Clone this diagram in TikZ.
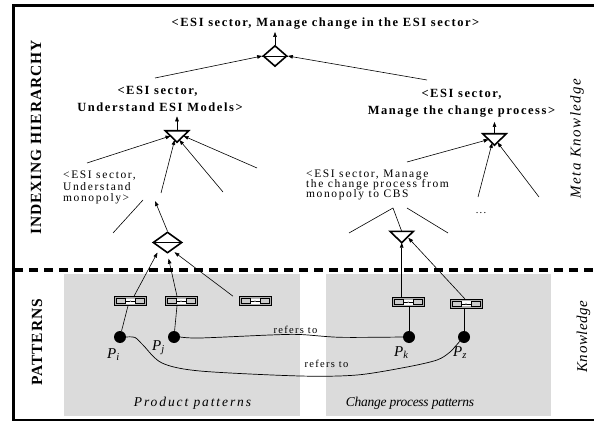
\documentclass[tikz,border=0pt]{standalone}
\usepackage{fontspec}
\setmainfont{Liberation Serif}
\newfontfamily\fhd[LetterSpace=12.5]{Liberation Serif}
\newfontfamily\ftx[LetterSpace=14]{Liberation Serif}
\newfontfamily\fref[LetterSpace=12]{Liberation Serif}
\newfontfamily\fprod[LetterSpace=14]{Liberation Serif}
\newfontfamily\fchg[LetterSpace=-2]{Liberation Serif}
\newfontfamily\fbig[LetterSpace=6]{Liberation Serif}
\newfontfamily\fmeta[LetterSpace=10]{Liberation Serif}
\newfontfamily\fkn[LetterSpace=4]{Liberation Serif}
\usetikzlibrary{arrows.meta,shapes.geometric,calc}
\begin{document}
\begin{tikzpicture}[x=1pt,y=-1pt,
  arr/.style={-{Triangle[length=5pt,width=3.6pt]}, line width=0.6pt},
  ln/.style={line width=0.6pt},
  hd/.style={font={\fhd\bfseries\fontsize{12.5}{14}\selectfont}, inner sep=0pt, anchor=base},
  tx/.style={font={\ftx\fontsize{11.5}{13}\selectfont}, inner sep=0pt, anchor=base west},
  ref/.style={font={\fref\fontsize{10.5}{12}\selectfont}, inner sep=0pt, anchor=base},
  plab/.style={font={\itshape\fontsize{15}{17}\selectfont}, inner sep=0pt, anchor=base west},
  grpp/.style={font={\fprod\itshape\fontsize{13.5}{15}\selectfont}, inner sep=0pt, anchor=base},
  grpc/.style={font={\fchg\itshape\fontsize{13.5}{15}\selectfont}, inner sep=0pt, anchor=base},
  side/.style={font={\fbig\bfseries\fontsize{15.5}{18}\selectfont}, inner sep=0pt, anchor=base, rotate=90},
  sidem/.style={font={\fmeta\itshape\fontsize{15}{17}\selectfont}, inner sep=0pt, anchor=base, rotate=90},
  sidek/.style={font={\fkn\itshape\fontsize{15}{17}\selectfont}, inner sep=0pt, anchor=base, rotate=90},
  dia/.style={diamond, draw, line width=1.6pt, inner sep=0pt},
  trib/.style={inner sep=0pt, minimum width=23pt, minimum height=11pt},
  tridraw/.style={line width=1.6pt, line join=miter},
  icon/.style={draw, line width=0.6pt, fill=gray!60, inner sep=0pt, minimum width=32pt, minimum height=9pt,
    path picture={
      \fill[white] ($(path picture bounding box.center)+(-5,-2.5)$) rectangle ($(path picture bounding box.center)+(5,2.5)$);
      \draw[line width=0.5pt, fill=gray!40] ($(path picture bounding box.center)+(-14,-2.3)$) rectangle ($(path picture bounding box.center)+(-5,2.3)$);
      \draw[line width=0.5pt, fill=gray!40] ($(path picture bounding box.center)+(5,-2.3)$) rectangle ($(path picture bounding box.center)+(14,2.3)$);
      \draw[line width=0.5pt] ($(path picture bounding box.center)+(-5,0)$) -- ($(path picture bounding box.center)+(5,0)$);
      \fill ($(path picture bounding box.center)$) circle (0.9pt);
    }},
  pdot/.style={circle, fill=black, inner sep=0pt, minimum size=12pt}
]
\useasboundingbox (0,0) rectangle (594,422);
% grey areas
\fill[gray!28] (64,274) rectangle (300,416);
\fill[gray!28] (326,274) rectangle (551,416);
% frame
\draw[line width=2.4pt] (594,5.5) -- (13.5,5.5) -- (13.5,419.8) -- (594,419.8);
\draw[line width=3.2pt, dash pattern=on 9pt off 6pt] (14,270) -- (594,270);

% side labels
\node[side] (ih) at (41,137.5) {INDEXING HIERARCHY};
\node[side] (pt) at (42,342.5) {PATTERNS};
\node[sidem] (mk) at (580.5,138.5) {Meta Knowledge};
\node[sidek] (kn) at (587,336.5) {Knowledge};

% texts
\node[hd] (top) at (325.5,27) {<ESI sector, Manage change in the ESI sector>};
\node[hd] (l2a) at (157.5,95) {<ESI sector,};
\node[hd] (l2b) at (160,112) {Understand ESI Models>};
\node[hd] (r2a) at (461.5,98) {<ESI sector,};
\node[hd] (r2b) at (461.5,115) {Manage the change process>};

\node[tx] (m1) at (63,179) {<ESI sector,};
\node[tx] (m2) at (63,191) {Understand};
\node[tx] (m3) at (63,202) {monopoly>};
\node[tx] (c1) at (306,178) {<ESI sector, Manage};
\node[tx] (c2) at (306,188) {the change process from};
\node[tx] (c3) at (306,198) {monopoly to CBS};
\node[ref] (dd) at (481,213) {...};

% top diamond
\node[dia, minimum width=24pt, minimum height=21pt] (D) at (275,56) {};
\draw[line width=0.8pt] (D.west) -- (D.east);
\draw[arr, shorten >=2pt] (D.north) -- (D.north |- top.south);
\coordinate (aL) at (155,78);
\coordinate (aR) at (427,80);
\draw[arr] (aL) -- (D.west);
\draw[arr] (aR) -- (D.east);

% left triangle
\node[trib] (t1) at (177,136.5) {};
\draw[tridraw] (t1.north west) -- (t1.north east) -- (t1.south) -- cycle;
\draw[arr, shorten >=4pt] (t1.north) -- (t1.north |- l2b.south);
\coordinate (b1) at (87,163);
\coordinate (b2) at (161,193);
\coordinate (b3) at (223,192);
\coordinate (b4) at (257,168);
\draw[arr] (b1) -- ($(t1.north west)!0.45!(t1.south)$);
\draw[arr] (b2) -- ($(t1.north west)!0.8!(t1.south)$);
\draw[arr] (b3) -- ($(t1.north east)!0.8!(t1.south)$);
\draw[arr] (b4) -- ($(t1.north east)!0.45!(t1.south)$);

% right triangle
\node[trib] (t2) at (494.5,139.5) {};
\draw[tridraw] (t2.north west) -- (t2.north east) -- (t2.south) -- cycle;
\draw[arr, shorten >=4pt] (t2.north) -- (t2.north |- r2b.south);
\coordinate (e1) at (407,162);
\coordinate (e2) at (478,197);
\coordinate (e3) at (539,197);
\draw[arr] (e1) -- ($(t2.north west)!0.5!(t2.south)$);
\draw[arr] (e2) -- ($(t2.north west)!0.8!(t2.south)$);
\draw[arr] (e3) -- ($(t2.north east)!0.75!(t2.south)$);

% lower diamond
\node[dia, minimum width=29pt, minimum height=21pt] (d2) at (167.5,242.5) {};
\draw[line width=0.8pt] (d2.west) -- (d2.east);
\coordinate (g1) at (155,201);
\draw[arr] (d2.north) -- (g1);
\coordinate (s1a) at (113,233);
\coordinate (s1b) at (143,200);
\draw[ln] (s1a) -- (s1b);

% lower triangle
\node[trib] (t3) at (401.7,237) {};
\draw[tridraw] (t3.north west) -- (t3.north east) -- (t3.south) -- cycle;
\coordinate (h0) at (393,208);
\coordinate (h1) at (349,233);
\coordinate (h2) at (407,208);
\coordinate (h3) at (448,233);
\draw[ln] (h1) -- (h0);
\draw[ln] (t3.north) -- (h0);
\draw[ln] (h2) -- (h3);

% icons
\node[icon] (i1) at (130.5,301) {};
\node[icon] (i2) at (181,301) {};
\node[icon] (i3) at (255,301) {};
\node[icon] (i4) at (408.3,302) {};
\node[icon] (i5) at (466,303.8) {};

\draw[arr, shorten >=5pt] ($(i1.north)+(3.5,0)$) -- (d2.south west);
\draw[arr, shorten >=5pt] ($(i2.north)+(-4,0)$) -- (d2.south);
\draw[arr, shorten >=3pt] ($(i3.north)+(-22,0)$) -- ($(d2.south)!0.3!(d2.east)$);
\draw[arr] (t3.south |- i4.north) -- (t3.south);
\draw[arr, shorten >=1pt] ($(i5.north)+(-1,0)$) -- ($(t3.north east)!0.5!(t3.south)$);

% pattern dots
\node[pdot] (pi) at (120,337) {};
\node[pdot] (pj) at (174,337) {};
\node[pdot] (pk) at (409,337) {};
\node[pdot] (pz) at (464,337) {};
\draw[ln] (pi) -- ($(i1.south)+(-2.5,0)$);
\draw[ln] (pj) -- ($(i2.south)+(-4,0)$);
\draw[ln] (pk) -- (pk |- i4.south);
\draw[ln] (pz) -- (pz |- i5.south);

\node[plab] (lpi) at (107,358) {P\textsubscript{i}};
\node[plab] (lpj) at (152,350) {P\textsubscript{j}};
\node[plab] (lpk) at (394,356) {P\textsubscript{k}};
\node[plab] (lpz) at (453,356) {P\textsubscript{z}};

% refers to curves
\draw[line width=0.7pt] plot[smooth, tension=0.5] coordinates {(pj.east) (200,338) (270,335) (300,334.5) (340,337.3) (pk.west)};
\node[ref] (r1) at (295.5,333) {refers to};
\draw[line width=0.7pt] plot[smooth, tension=0.5] coordinates {(pi.east) (135,337.5) (143,345) (162,363) (200,371) (300,376) (357,375) (407,367) (437,360) (450,352) (pz.south west)};
\node[ref] (r2) at (326.5,367.5) {refers to};

% group labels
\node[grpp] (gp) at (192.5,406.7) {Product patterns};
\node[grpc] (gc) at (410,406) {Change process patterns};
\end{tikzpicture}
\end{document}
